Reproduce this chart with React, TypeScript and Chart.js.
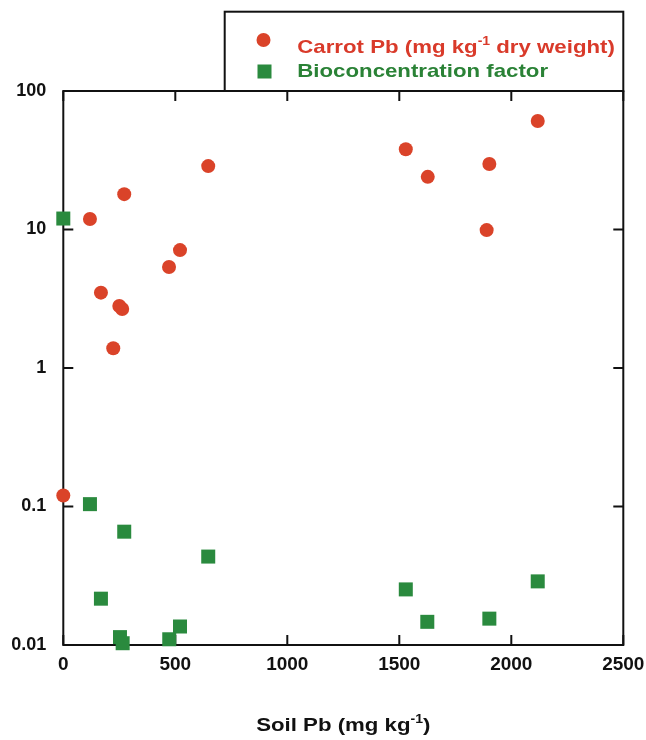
import React, { useEffect, useRef } from "react";
import { Chart, registerables } from "chart.js";

Chart.register(...registerables);

// Carrot Pb series
const soilCarrot = [0, 119, 168, 223, 250, 263, 272, 472, 521, 647, 1529, 1627, 1890, 1902, 2118];
const carrotPb = [0.12, 11.9, 3.5, 1.39, 2.8, 2.67, 18, 5.36, 7.1, 28.7, 38, 24, 9.9, 29.7, 60.7];

// Bioconcentration factor series
const soilBcf = [0, 119, 168, 253, 265, 272, 473, 521, 647, 1529, 1625, 1902, 2118];
const bcf = [12, 0.104, 0.0216, 0.0114, 0.0103, 0.0658, 0.011, 0.0136, 0.0435, 0.0252, 0.0147, 0.0155, 0.0288];

const xTickValues = [0, 500, 1000, 1500, 2000, 2500];
const yTickValues = [0.01, 0.1, 1, 10, 100];
const yTickLabels = ["0.01", "0.1", "1", "10", "100"];

const RED = "#DA4329";
const GREEN = "#2A8A3E";
const RED_TEXT = "#D93A2A";
const GREEN_TEXT = "#2A8236";
const INK = "#111111";
const FONT = "'Liberation Sans', Arial, sans-serif";
const SX = 1.17;

type Seg = { t: string; sup?: boolean };

function segWidth(ctx: CanvasRenderingContext2D, s: Seg, size: number, supSize: number) {
  ctx.font = `bold ${s.sup ? supSize : size}px ${FONT}`;
  return ctx.measureText(s.t).width * SX;
}

function drawRich(
  ctx: CanvasRenderingContext2D,
  segs: Seg[],
  x: number,
  baseline: number,
  size: number,
  supSize: number,
  color: string,
  align: "left" | "center"
) {
  let total = 0;
  segs.forEach((s) => (total += segWidth(ctx, s, size, supSize)));
  let cx = align === "center" ? x - total / 2 : x;
  ctx.save();
  ctx.fillStyle = color;
  ctx.textAlign = "left";
  ctx.textBaseline = "alphabetic";
  segs.forEach((s) => {
    const w = segWidth(ctx, s, size, supSize);
    ctx.font = `bold ${s.sup ? supSize : size}px ${FONT}`;
    ctx.save();
    ctx.translate(cx, s.sup ? baseline - size * 0.42 : baseline);
    ctx.scale(SX, 1);
    ctx.fillText(s.t, 0, 0);
    ctx.restore();
    cx += w;
  });
  ctx.restore();
}

const framePlugin = {
  id: "frame",
  beforeDatasetsDraw(chart: any) {
    const { ctx, chartArea, scales } = chart;
    const { left, right, top, bottom } = chartArea;
    ctx.save();
    ctx.strokeStyle = INK;
    ctx.lineWidth = 2;
    ctx.strokeRect(left, top, right - left, bottom - top);
    const tl = 10;
    ctx.beginPath();
    xTickValues.forEach((v) => {
      const px = scales.x.getPixelForValue(v);
      ctx.moveTo(px, bottom);
      ctx.lineTo(px, bottom - tl);
      ctx.moveTo(px, top);
      ctx.lineTo(px, top + tl);
    });
    yTickValues.forEach((v) => {
      const py = scales.y.getPixelForValue(v);
      ctx.moveTo(left, py);
      ctx.lineTo(left + tl, py);
      ctx.moveTo(right, py);
      ctx.lineTo(right - tl, py);
    });
    ctx.stroke();
    ctx.restore();
  },
  afterDraw(chart: any) {
    const { ctx, chartArea } = chart;
    const { left, right, top } = chartArea;
    ctx.save();
    // legend box
    const bx = 224.7;
    const by = 11.7;
    ctx.strokeStyle = INK;
    ctx.lineWidth = 2;
    ctx.strokeRect(bx, by, right - bx, top - by);
    // markers
    ctx.fillStyle = RED;
    ctx.beginPath();
    ctx.arc(263.5, 40, 7, 0, Math.PI * 2);
    ctx.fill();
    ctx.fillStyle = GREEN;
    ctx.fillRect(264.5 - 7, 71.5 - 7, 14, 14);
    ctx.restore();

    drawRich(
      ctx,
      [{ t: "Carrot Pb (mg kg" }, { t: "-1", sup: true }, { t: " dry weight)" }],
      297.3,
      53,
      19,
      12,
      RED_TEXT,
      "left"
    );
    drawRich(ctx, [{ t: "Bioconcentration factor" }], 297.3, 77, 19, 12, GREEN_TEXT, "left");

    // x axis title
    drawRich(
      ctx,
      [{ t: "Soil Pb (mg kg" }, { t: "-1", sup: true }, { t: ")" }],
      (left + right) / 2,
      731,
      19,
      12,
      INK,
      "center"
    );
  },
};

export default function App() {
  const ref = useRef<HTMLCanvasElement | null>(null);

  useEffect(() => {
    if (!ref.current) return;
    const chart = new Chart(ref.current, {
      type: "scatter",
      data: {
        datasets: [
          {
            label: "Bioconcentration factor",
            data: soilBcf.map((x, i) => ({ x, y: bcf[i] })),
            pointStyle: "rect",
            pointRadius: 9.9,
            pointHoverRadius: 9.9,
            backgroundColor: GREEN,
            borderColor: GREEN,
            borderWidth: 0,
            clip: false,
          } as any,
          {
            label: "Carrot Pb (mg kg-1 dry weight)",
            data: soilCarrot.map((x, i) => ({ x, y: carrotPb[i] })),
            pointStyle: "circle",
            pointRadius: 7,
            pointHoverRadius: 7,
            backgroundColor: RED,
            borderColor: RED,
            borderWidth: 0,
            clip: false,
          } as any,
        ],
      },
      options: {
        responsive: false,
        animation: false,
        events: [],
        layout: { padding: { left: 0, top: 91, right: 646 - 623.3, bottom: 0 } },
        plugins: {
          legend: { display: false },
          title: { display: false },
          tooltip: { enabled: false },
        },
        scales: {
          x: {
            type: "linear",
            min: 0,
            max: 2500,
            grid: { display: false, drawTicks: false },
            border: { display: false },
            afterFit: (s: any) => {
              s.height = 740 - 645;
              s.paddingLeft = 0;
              s.paddingRight = 0;
            },
            afterBuildTicks: (s: any) => {
              s.ticks = xTickValues.map((v) => ({ value: v }));
            },
            ticks: {
              padding: 8,
              color: INK,
              font: { family: FONT, size: 19, weight: "bold" },
              maxRotation: 0,
              callback: (v: any) => String(v),
            },
          },
          y: {
            type: "logarithmic",
            min: 0.01,
            max: 100,
            grid: { display: false, drawTicks: false },
            border: { display: false },
            afterFit: (s: any) => {
              s.width = 63.3;
              s.paddingTop = 0;
              s.paddingBottom = 0;
            },
            afterBuildTicks: (s: any) => {
              s.ticks = yTickValues.map((v) => ({ value: v }));
            },
            ticks: {
              padding: 17,
              color: INK,
              font: { family: FONT, size: 18, weight: "bold" },
              callback: (v: any) => {
                const i = yTickValues.indexOf(Number(v));
                return i >= 0 ? yTickLabels[i] : "";
              },
            },
          },
        },
      } as any,
      plugins: [framePlugin],
    });
    return () => chart.destroy();
  }, []);

  return (
    <div style={{ position: "absolute", left: 0, top: 0, width: 646, height: 740, background: "#fff" }}>
      <canvas ref={ref} width={646} height={740} style={{ display: "block", width: 646, height: 740 }} />
    </div>
  );
}
